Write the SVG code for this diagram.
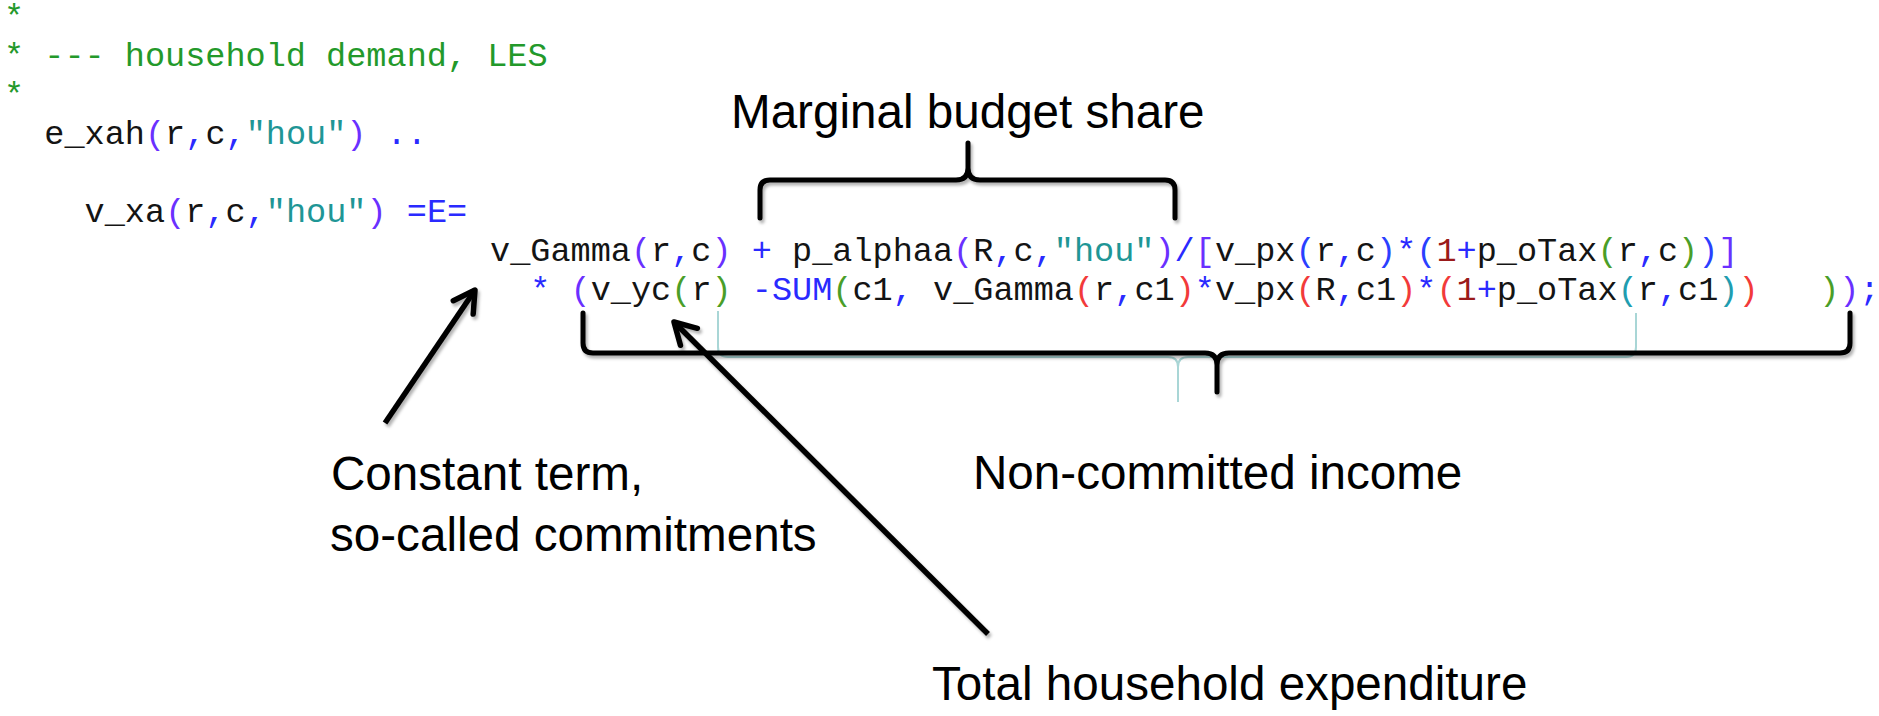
<svg xmlns="http://www.w3.org/2000/svg" width="1879" height="716" viewBox="0 0 1879 716">
<style>
.code{font-family:"Liberation Mono","DejaVu Sans Mono",monospace;font-size:33.56px;fill:#141414}
.code text{white-space:pre}
.cm{fill:#23992a}
.o{fill:#2a2aff}
.p1{fill:#6a30ff}
.p2{fill:#2a40ff}
.g{fill:#4a9e28}
.r{fill:#f23a3a}
.t{fill:#1f9db0}
.s{fill:#1f9696}
.n{fill:#9a1a1a}
.lbl{font-family:"Liberation Sans",Arial,sans-serif;font-size:47.6px;fill:#000}
.br{fill:none;stroke:#000;stroke-width:5;stroke-linecap:round;stroke-linejoin:round}
.ghost{fill:none;stroke:#a9d6d6;stroke-width:2}
.ar{fill:none;stroke:#000;stroke-width:5.5}
</style>
<defs>
<filter id="sh" filterUnits="userSpaceOnUse" x="0" y="0" width="1879" height="716">
<feDropShadow dx="2" dy="3" stdDeviation="1.5" flood-color="#000" flood-opacity="0.3"/>
</filter>
<marker id="ah" markerUnits="userSpaceOnUse" markerWidth="50" markerHeight="50" viewBox="-30 -25 50 50" refX="0" refY="0" orient="auto" overflow="visible">
<path d="M-21,-12 L0,0 L-21,12" fill="none" stroke="#000" stroke-width="5.5" stroke-linecap="round" stroke-linejoin="round"/>
</marker>
</defs>
<rect width="1879" height="716" fill="#fff"/>
<g id="code" class="code">
<text xml:space="preserve" x="4" y="27" class="cm">*</text>
<text xml:space="preserve" x="4" y="66" class="cm">* --- household demand, LES</text>
<text xml:space="preserve" x="4" y="105" class="cm">*</text>
<text xml:space="preserve" x="44.3" y="144">e_xah<tspan class="p1">(</tspan>r<tspan class="o">,</tspan>c<tspan class="o">,</tspan><tspan class="s">"hou"</tspan><tspan class="p1">)</tspan><tspan class="o"> ..</tspan></text>
<text xml:space="preserve" x="84.6" y="222">v_xa<tspan class="p1">(</tspan>r<tspan class="o">,</tspan>c<tspan class="o">,</tspan><tspan class="s">"hou"</tspan><tspan class="p1">)</tspan><tspan class="o"> =E=</tspan></text>
<text xml:space="preserve" x="490" y="261">v_Gamma<tspan class="p1">(</tspan>r<tspan class="o">,</tspan>c<tspan class="p1">)</tspan><tspan class="o"> + </tspan>p_alphaa<tspan class="p1">(</tspan>R<tspan class="o">,</tspan>c<tspan class="o">,</tspan><tspan class="s">"hou"</tspan><tspan class="p1">)</tspan><tspan class="o">/</tspan><tspan class="p1">[</tspan>v_px<tspan class="p2">(</tspan>r<tspan class="o">,</tspan>c<tspan class="p2">)</tspan><tspan class="o">*</tspan><tspan class="p2">(</tspan><tspan class="n">1</tspan><tspan class="o">+</tspan>p_oTax<tspan class="g">(</tspan>r<tspan class="o">,</tspan>c<tspan class="g">)</tspan><tspan class="p2">)</tspan><tspan class="p1">]</tspan></text>
<text xml:space="preserve" x="530.3" y="300"><tspan class="o">*</tspan> <tspan class="p1">(</tspan>v_yc<tspan class="g">(</tspan>r<tspan class="g">)</tspan><tspan class="o"> -SUM</tspan><tspan class="g">(</tspan>c1<tspan class="o">,</tspan> v_Gamma<tspan class="r">(</tspan>r<tspan class="o">,</tspan>c1<tspan class="r">)</tspan><tspan class="o">*</tspan>v_px<tspan class="r">(</tspan>R<tspan class="o">,</tspan>c1<tspan class="r">)</tspan><tspan class="o">*</tspan><tspan class="r">(</tspan><tspan class="n">1</tspan><tspan class="o">+</tspan>p_oTax<tspan class="t">(</tspan>r<tspan class="o">,</tspan>c1<tspan class="t">)</tspan><tspan class="r">)</tspan>   <tspan class="g" x="1819.2">)</tspan><tspan class="p1">)</tspan><tspan class="o">;</tspan></text>
</g>
<g id="connectors">
<path class="ghost" d="M718,311 V347 Q718,357 728,357 H1168 Q1178,357 1178,367 V402 M1178,367 Q1178,357 1188,357 H1626 Q1636,357 1636,347 V313"/>
<g filter="url(#sh)">
<path id="brace-top" class="br" d="M760,218 V190 Q760,180 770,180 H956 Q968,180 968,168 V143 M968,168 Q968,180 980,180 H1165 Q1175,180 1175,190 V218"/>
<path id="brace-bottom" class="br" d="M583,313 V343 Q583,353 593,353 H1205 Q1217,353 1217,365 V392 M1217,365 Q1217,353 1229,353 H1840 Q1850,353 1850,343 V313"/>
<line id="arrow-constant" class="ar" x1="385" y1="423" x2="475" y2="290" marker-end="url(#ah)"/>
<line id="arrow-total" class="ar" x1="988" y1="634" x2="674" y2="322" marker-end="url(#ah)"/>
</g>
</g>
<g id="label-marginal"><text class="lbl" x="731" y="128">Marginal budget share</text></g>
<g id="label-constant"><text class="lbl" x="331" y="490">Constant term,</text><text class="lbl" x="330" y="551">so-called commitments</text></g>
<g id="label-noncommitted"><text class="lbl" x="973" y="489">Non-committed income</text></g>
<g id="label-total"><text class="lbl" x="932" y="700">Total household expenditure</text></g>
</svg>
